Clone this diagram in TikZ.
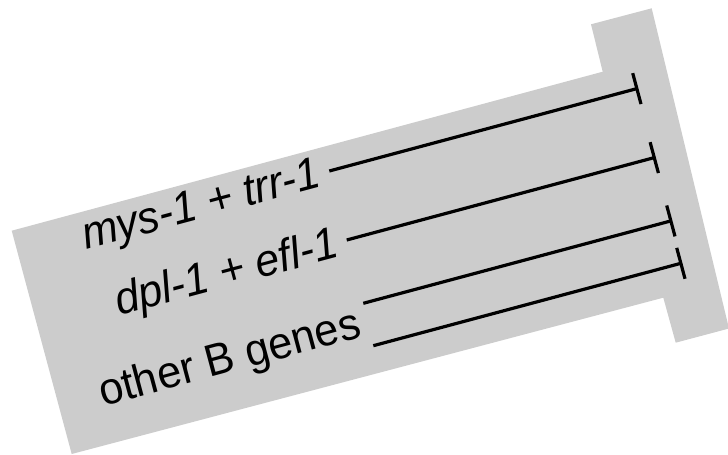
\documentclass[tikz,border=0pt]{standalone}
\usepackage{fontspec}
\setmainfont{Liberation Sans}[FakeStretch=0.96]
\usetikzlibrary{arrows.meta}
\definecolor{panelgray}{RGB}{204,204,204}
\tikzset{
  genetext/.style={rotate=15, anchor=base west, inner sep=0pt,
    font=\fontsize{45}{52}\selectfont},
  genename/.style={genetext, font=\itshape\fontsize{45}{52}\selectfont},
  inhibits/.style={line width=3.2pt, -{Bar[width=32pt]}}
}
\begin{document}
\begin{tikzpicture}[x=1pt,y=-1pt]
\useasboundingbox (0,0) rectangle (728,455);

% tilted grey panel with its raised block on the right
\fill[panelgray] (11.7,230.7) -- (602.7,71.7) -- (591,24.3) -- (651.7,8.3)
  -- (729,328.5) -- (675.7,342.7) -- (663.3,297.7) -- (71.7,454) -- cycle;

% labels
\node[genename] (mys) at (86,250) {mys-1 + trr-1};
\node[genename] (dpl) at (119,316) {dpl-1 + efl-1};
\node[genetext] (other) at (103,406.5) {other B genes};

% inhibition connectors
\coordinate (s1) at (329.3,171);   \coordinate (e1) at (638.4,88.2);
\coordinate (s2) at (346.7,240);   \coordinate (e2) at (655.8,157.2);
\coordinate (s3) at (363.3,303.3); \coordinate (e3) at (672.4,220.5);
\coordinate (s4) at (373.3,345.7); \coordinate (e4) at (682.4,262.9);

\draw[inhibits] (s1) -- (e1);
\draw[inhibits] (s2) -- (e2);
\draw[inhibits] (s3) -- (e3);
\draw[inhibits] (s4) -- (e4);
\end{tikzpicture}
\end{document}
